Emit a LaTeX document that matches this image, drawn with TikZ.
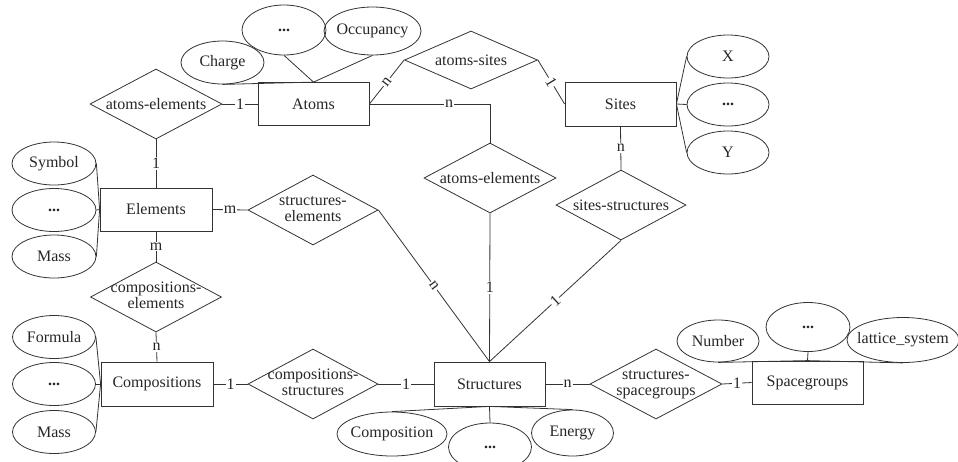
\documentclass[tikz,border=0pt]{standalone}
\usepackage{fontspec}
\setmainfont{Liberation Serif}
\usetikzlibrary{shapes.geometric}
\newcommand{\zw}[1]{\makebox[0pt]{#1}}
\newcommand{\zwt}[2]{\makebox[0pt]{\begin{tabular}{@{}c@{}}#1\\[-3pt]#2\end{tabular}}}
\begin{document}
\begin{tikzpicture}[x=1pt,y=-1pt,
  every node/.style={font=\fontsize{16}{19}\selectfont, text=black!85},
  ent/.style={draw=black!80, line width=0.8pt, rectangle, minimum width=111pt, minimum height=43pt, inner sep=0pt},
  rel/.style={draw=black!80, line width=0.8pt, diamond, inner sep=0pt, minimum width=132pt, minimum height=70pt},
  attr/.style={draw=black!80, line width=0.8pt, ellipse, inner sep=0pt, minimum width=83pt, minimum height=43pt},
  conn/.style={draw=black!80, line width=0.8pt},
  lbl/.style={fill=white, inner sep=1pt},
  slbl/.style={fill=white, inner sep=1pt, sloped}]
\useasboundingbox (0,0) rectangle (958,461);
% entities
\node[ent] (atoms) at (313.5,104) {Atoms};
\node[ent, minimum height=44pt] (sites) at (620.5,104) {Sites};
\node[ent, minimum width=112pt] (elements) at (156,209.5) {Elements};
\node[ent, minimum width=112pt, minimum height=44pt] (comps) at (157,384) {Compositions};
\node[ent, minimum height=44pt] (structs) at (489.5,384) {Structures};
\node[ent] (sgroups) at (807.5,382.5) {Spacegroups};
% relationships
\node[rel] (ae1) at (156,104) {\zw{atoms-elements}};
\node[rel, minimum width=133pt, minimum height=58pt] (as) at (471,60) {\zw{atoms-sites}};
\node[rel] (ae2) at (490,178) {\zw{atoms-elements}};
\node[rel, minimum width=130pt] (ss) at (621,205) {\zw{sites-structures}};
\node[rel, minimum width=130pt] (se) at (313,210) {\zwt{structures-}{elements}};
\node[rel, minimum width=131pt] (ce) at (156,297) {\zwt{compositions-}{elements}};
\node[rel, minimum width=130pt] (cs) at (313,384) {\zwt{compositions-}{structures}};
\node[rel] (sp) at (656,384) {\zwt{structures-}{spacegroups}};
% attributes
\node[attr] (charge) at (222.5,62.5) {\zw{Charge}};
\node[attr, minimum width=84pt, minimum height=50pt] (adots) at (284,30) {\zw{\textbf{...}}};
\node[attr, minimum width=97pt, minimum height=48pt] (occ) at (372.5,31) {\zw{Occupancy}};
\node[attr, minimum width=82pt] (sx) at (728,56.5) {\zw{X}};
\node[attr, minimum width=82pt] (sdots) at (728,104.5) {\zw{\textbf{...}}};
\node[attr, minimum width=82pt] (sy) at (728,152.5) {\zw{Y}};
\node[attr, minimum width=84pt] (symbol) at (54,163.5) {\zw{Symbol}};
\node[attr, minimum width=84pt] (edots) at (54,210) {\zw{\textbf{...}}};
\node[attr, minimum width=84pt] (emass) at (54,256.5) {\zw{Mass}};
\node[attr] (formula) at (54,337) {\zw{Formula}};
\node[attr] (cdots) at (54,384) {\zw{\textbf{...}}};
\node[attr] (cmass) at (54,432) {\zw{Mass}};
\node[attr, minimum width=110pt, minimum height=44pt] (composition) at (392,434) {\zw{Composition}};
\node[attr, minimum height=48pt] (stdots) at (490,447) {\zw{\textbf{...}}};
\node[attr, minimum width=82pt, minimum height=46pt] (energy) at (572.5,433) {\zw{Energy}};
\node[attr, minimum width=82pt, minimum height=42pt] (number) at (718,341) {\zw{Number}};
\node[attr, minimum width=84pt, minimum height=49pt] (gdots) at (808,327) {\zw{\textbf{...}}};
\node[attr, minimum width=112pt, minimum height=45pt] (lattice) at (903,340) {\zw{lattice\_system}};
% attribute links
\draw[conn] (charge.south) -- (atoms.north);
\draw[conn] (adots.south) -- (atoms.north);
\draw[conn] (occ.south) -- (atoms.north);
\foreach \a in {sx,sdots,sy} \draw[conn] (sites.east) -- (\a.west);
\foreach \a in {symbol,edots,emass} \draw[conn] (elements.west) -- (\a.east);
\foreach \a in {formula,cdots,cmass} \draw[conn] (comps.west) -- (\a.east);
\foreach \a in {composition,stdots,energy} \draw[conn] (structs.south) -- (\a.north);
\foreach \a in {number,gdots,lattice} \draw[conn] (sgroups.north) -- (\a.south);
% relationship links
\draw[conn] (ae1.east) -- node[lbl]{1} (atoms.west);
\draw[conn] (ae1.south) -- node[lbl]{1} (elements.north);
\draw[conn] (atoms.east) -- node[slbl]{n} (as.west);
\draw[conn] (as.east) -- node[slbl]{1} (sites.west);
\draw[conn] (atoms.east) -| node[lbl, pos=0.33]{n} (ae2.north);
\draw[conn] (sites.south) -- node[lbl]{n} (ss.north);
\draw[conn] (ae2.south) -- node[lbl]{1} (structs.north);
\draw[conn] (ss.south) -- node[slbl]{1} (structs.north);
\draw[conn] (se.east) -- node[slbl]{n} (structs.north);
\draw[conn] (elements.east) -- node[lbl]{m} (se.west);
\draw[conn] (elements.south) -- node[lbl]{m} (ce.north);
\draw[conn] (ce.south) -- node[lbl]{n} (comps.north);
\draw[conn] (comps.east) -- node[lbl]{1} (cs.west);
\draw[conn] (cs.east) -- node[lbl]{1} (structs.west);
\draw[conn] (structs.east) -- node[lbl]{n} (sp.west);
\draw[conn] (sp.east) -- node[lbl]{1} (sgroups.west);
\end{tikzpicture}
\end{document}
